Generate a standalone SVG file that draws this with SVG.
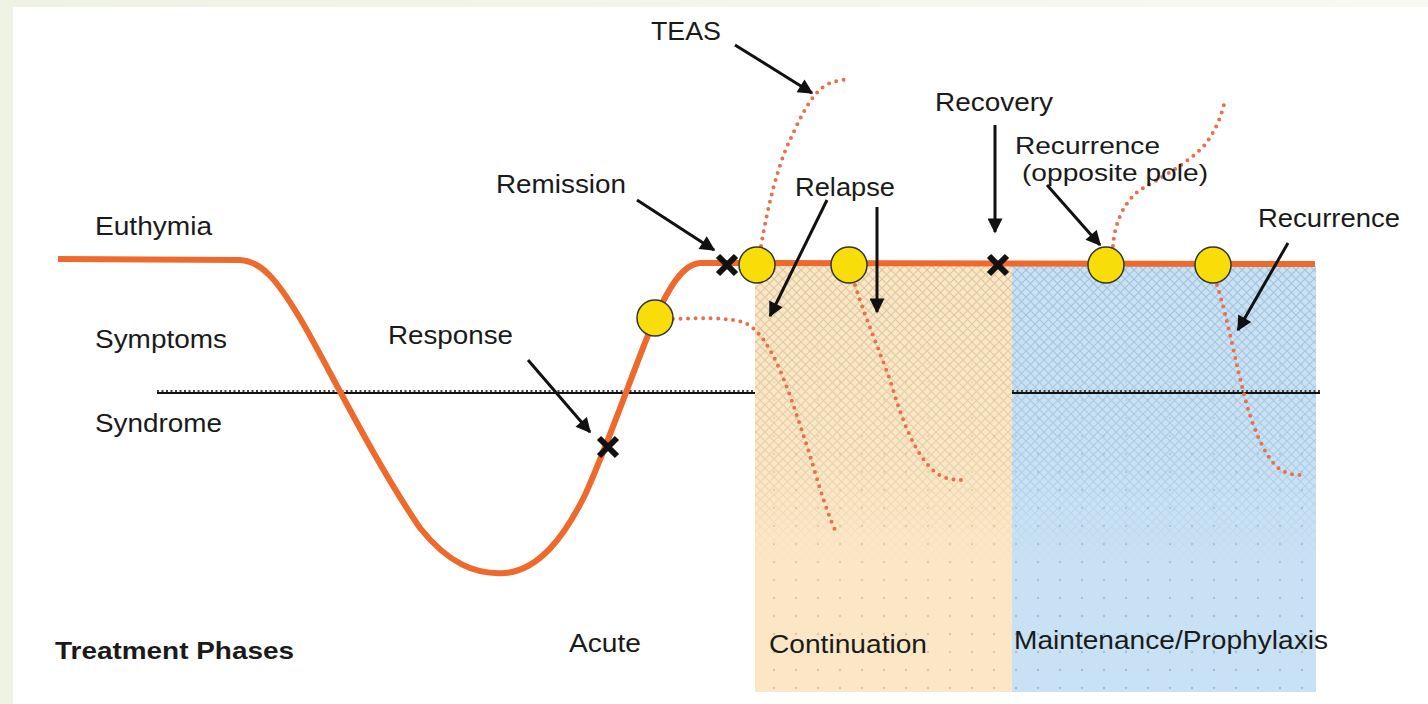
<svg xmlns="http://www.w3.org/2000/svg" width="1428" height="704" viewBox="0 0 1428 704">
<style>
text{font-family:"Liberation Sans",Arial,sans-serif;font-size:25px;fill:#1a1a1a}
.bold{font-weight:bold;font-size:24px}
.curve{fill:none;stroke:#ee6a2c;stroke-width:6;stroke-linejoin:round}
.dots{fill:none;stroke:#e8704a;stroke-width:4;stroke-linecap:round;stroke-dasharray:0 7.5}
.arrow{fill:none;stroke:#111;stroke-width:3;marker-end:url(#ah)}
.circ{fill:#f9dd08;stroke:#333;stroke-width:1.5}
.x{stroke:#111;stroke-width:6;stroke-linecap:butt}
.synd{stroke:#111;stroke-width:2.2}
.syndw{stroke:#444;stroke-width:2;stroke-dasharray:2 2.5}
</style>
<defs>
<marker id="ah" viewBox="0 0 10 10" refX="9" refY="5" markerWidth="5.5" markerHeight="5" orient="auto" markerUnits="strokeWidth">
<path d="M0,0 L10,5 L0,10 z" fill="#111"/>
</marker>
<pattern id="hatchT" width="9" height="9" patternUnits="userSpaceOnUse">
<path d="M0,0 L9,9 M9,0 L0,9" stroke="#dcc7a0" stroke-width="1.2"/>
</pattern>
<pattern id="hatchB" width="9" height="9" patternUnits="userSpaceOnUse">
<path d="M0,0 L9,9 M9,0 L0,9" stroke="#a3c2da" stroke-width="1.2"/>
</pattern>
<pattern id="dotT" width="22" height="18" patternUnits="userSpaceOnUse">
<circle cx="4" cy="4" r="1.2" fill="#d3bd95"/>
</pattern>
<pattern id="dotB" width="22" height="18" patternUnits="userSpaceOnUse">
<circle cx="4" cy="4" r="1.2" fill="#95b4cf"/>
</pattern>
<linearGradient id="fade" x1="0" y1="0" x2="0" y2="1">
<stop offset="0" stop-color="#fff" stop-opacity="1"/>
<stop offset="0.45" stop-color="#fff" stop-opacity="0.7"/>
<stop offset="0.7" stop-color="#fff" stop-opacity="0"/>
</linearGradient>
<linearGradient id="fade2" x1="0" y1="0" x2="0" y2="1">
<stop offset="0" stop-color="#fff" stop-opacity="0"/>
<stop offset="0.4" stop-color="#fff" stop-opacity="0.5"/>
<stop offset="1" stop-color="#fff" stop-opacity="0.8"/>
</linearGradient>
<mask id="mfade" maskUnits="userSpaceOnUse" x="0" y="0" width="1428" height="704">
<rect x="750" y="266" width="570" height="426" fill="url(#fade)"/>
</mask>
<mask id="mfade2" maskUnits="userSpaceOnUse" x="0" y="0" width="1428" height="704">
<rect x="750" y="266" width="570" height="426" fill="url(#fade2)"/>
</mask>
<linearGradient id="topbar" x1="0" y1="0" x2="1" y2="0">
<stop offset="0" stop-color="#eef2e2"/>
<stop offset="1" stop-color="#f8f9f2"/>
</linearGradient>
</defs>

<rect x="0" y="0" width="1428" height="704" fill="#ffffff"/>
<rect x="0" y="0" width="1428" height="7" fill="url(#topbar)"/>
<rect x="0" y="0" width="13" height="704" fill="#eff3e3"/>

<g id="phase-continuation">
<rect x="755" y="266" width="257" height="426" fill="#fbe7c5"/>
<rect x="755" y="266" width="257" height="426" fill="url(#hatchT)" mask="url(#mfade)"/>
<rect x="755" y="266" width="257" height="426" fill="url(#dotT)" mask="url(#mfade2)"/>
</g>
<g id="phase-maintenance">
<rect x="1012" y="266" width="304" height="426" fill="#c8e1f5"/>
<rect x="1012" y="266" width="304" height="426" fill="url(#hatchB)" mask="url(#mfade)"/>
<rect x="1012" y="266" width="304" height="426" fill="url(#dotB)" mask="url(#mfade2)"/>
</g>

<g id="syndrome-line">
<line class="synd" x1="157" y1="393" x2="755" y2="393"/>
<line class="syndw" x1="157" y1="391" x2="755" y2="391"/>
<line class="synd" x1="1012" y1="393" x2="1320" y2="393"/>
<line class="syndw" x1="1012" y1="391" x2="1320" y2="391"/>
</g>

<g id="connectors">
<path class="dots" d="M673,319 C700,318 728,317 745,323 C772,335 790,395 805,440 C815,470 822,500 835,530"/>
<path class="dots" d="M761,246 C768,205 778,165 790,140 C800,118 812,92 828,84 C838,80 845,79 850,80"/>
<path class="dots" d="M855,285 C866,320 880,352 890,380 C902,420 915,455 935,472 C945,480 955,480 965,480"/>
<path class="dots" d="M1113,246 C1114,230 1120,205 1140,190 C1160,178 1185,165 1203,147 C1215,133 1222,115 1225,100"/>
<path class="dots" d="M1217,285 C1228,320 1236,365 1245,398 C1252,425 1262,450 1275,465 C1283,473 1292,475 1300,475"/>

<path class="curve" d="M58,259 L240,260 C262,261 278,282 298,315 C320,350 370,455 420,528 C448,563 475,575 505,573 C540,570 565,535 585,495 C610,440 635,365 655,318 C668,290 682,264 700,263 L1315,264"/>

<path class="arrow" d="M735,45 L812,93"/>
<path class="arrow" d="M637,200 L714,250"/>
<path class="arrow" d="M827,200 L770,316"/>
<path class="arrow" d="M877,207 L877,312"/>
<path class="arrow" d="M995,125 L995,232"/>
<path class="arrow" d="M1047,185 L1100,245"/>
<path class="arrow" d="M1288,243 L1238,330"/>
<path class="arrow" d="M528,360 L590,432"/>
</g>

<g id="node-response-x"><path class="x" d="M599,438 L617,456 M617,438 L599,456"/></g>
<g id="node-remission-x"><path class="x" d="M718,256 L736,274 M736,256 L718,274"/></g>
<g id="node-recovery-x"><path class="x" d="M989,256 L1007,274 M1007,256 L989,274"/></g>

<g id="node-c1"><circle class="circ" cx="655" cy="318" r="18"/></g>
<g id="node-c2"><circle class="circ" cx="757" cy="265" r="18"/></g>
<g id="node-c3"><circle class="circ" cx="849" cy="265" r="18"/></g>
<g id="node-c4"><circle class="circ" cx="1106" cy="265" r="18"/></g>
<g id="node-c5"><circle class="circ" cx="1213" cy="265" r="18"/></g>

<g id="labels">
<text x="651" y="40" textLength="70" lengthAdjust="spacingAndGlyphs">TEAS</text>
<text x="496" y="193" textLength="130" lengthAdjust="spacingAndGlyphs">Remission</text>
<text x="795" y="196" textLength="100" lengthAdjust="spacingAndGlyphs">Relapse</text>
<text x="935" y="111" textLength="118" lengthAdjust="spacingAndGlyphs">Recovery</text>
<text x="1015" y="154" textLength="145" lengthAdjust="spacingAndGlyphs" style="font-size:24px">Recurrence</text>
<text x="1022" y="181" textLength="186" lengthAdjust="spacingAndGlyphs" style="font-size:24px">(opposite pole)</text>
<text x="1258" y="227" textLength="142" lengthAdjust="spacingAndGlyphs">Recurrence</text>
<text x="95" y="235" textLength="117" lengthAdjust="spacingAndGlyphs">Euthymia</text>
<text x="95" y="348" textLength="132" lengthAdjust="spacingAndGlyphs">Symptoms</text>
<text x="95" y="432" textLength="127" lengthAdjust="spacingAndGlyphs">Syndrome</text>
<text x="388" y="344" textLength="125" lengthAdjust="spacingAndGlyphs">Response</text>
<text class="bold" x="55" y="659" textLength="239" lengthAdjust="spacingAndGlyphs">Treatment Phases</text>
<text x="569" y="652" textLength="72" lengthAdjust="spacingAndGlyphs">Acute</text>
<text x="769" y="653" textLength="158" lengthAdjust="spacingAndGlyphs">Continuation</text>
<text x="1014" y="649" textLength="314" lengthAdjust="spacingAndGlyphs">Maintenance/Prophylaxis</text>
</g>
</svg>
